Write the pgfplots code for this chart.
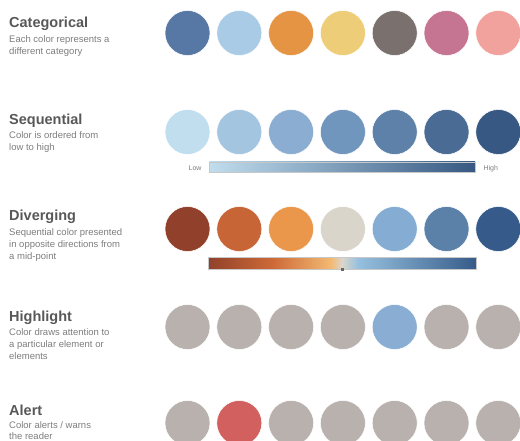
\documentclass[border=0pt]{standalone}
\usepackage{pgfplots}
\pgfplotsset{compat=1.18}
\usepackage{pgfplotstable}
\usepackage{fontspec}
\setmainfont{Liberation Sans}
\definecolor{ttl}{RGB}{88,88,88}
\definecolor{sub}{RGB}{125,125,125}
\definecolor{seqA}{RGB}{193,222,238}
\definecolor{seqB}{RGB}{54,88,130}
\definecolor{dv1}{RGB}{145,65,43}
\definecolor{dv2}{RGB}{205,105,55}
\definecolor{dv3}{RGB}{243,186,115}
\definecolor{dv4}{RGB}{218,214,205}
\definecolor{dv5}{RGB}{150,192,222}
\definecolor{dv6}{RGB}{54,91,138}
% circle colours
\definecolor{ca}{RGB}{87,120,164}
\definecolor{cb}{RGB}{169,203,229}
\definecolor{cc}{RGB}{229,148,68}
\definecolor{cd}{RGB}{237,205,120}
\definecolor{ce}{RGB}{122,112,109}
\definecolor{cf}{RGB}{197,117,145}
\definecolor{cg}{RGB}{241,162,156}
\definecolor{sa}{RGB}{193,222,238}
\definecolor{sb}{RGB}{163,197,224}
\definecolor{sc}{RGB}{138,173,209}
\definecolor{sd}{RGB}{113,150,189}
\definecolor{se}{RGB}{93,129,168}
\definecolor{sf}{RGB}{74,107,148}
\definecolor{sg}{RGB}{54,88,130}
\definecolor{da}{RGB}{145,65,43}
\definecolor{db}{RGB}{200,101,54}
\definecolor{dc}{RGB}{234,151,76}
\definecolor{dd}{RGB}{218,213,202}
\definecolor{de}{RGB}{133,173,211}
\definecolor{df}{RGB}{91,129,168}
\definecolor{dg}{RGB}{54,91,138}
\definecolor{hg}{RGB}{184,177,173}
\definecolor{hb}{RGB}{138,173,211}
\definecolor{ar}{RGB}{209,96,94}
\pgfdeclarehorizontalshading{seqshade}{100bp}{color(0bp)=(seqA); color(25bp)=(seqA); color(75bp)=(seqB); color(100bp)=(seqB)}
\pgfdeclarehorizontalshading{divshade}{100bp}{color(0bp)=(dv1); color(25bp)=(dv1); color(37bp)=(dv2); color(48bp)=(dv3); color(50bp)=(dv4); color(53bp)=(dv5); color(75bp)=(dv6); color(100bp)=(dv6)}

\pgfplotstableread{
x y c
187.5 33 ca
239.3 33 cb
291.1 33 cc
342.9 33 cd
394.7 33 ce
446.5 33 cf
498.3 33 cg
187.5 132 sa
239.3 132 sb
291.1 132 sc
342.9 132 sd
394.7 132 se
446.5 132 sf
498.3 132 sg
187.5 229 da
239.3 229 db
291.1 229 dc
342.9 229 dd
394.7 229 de
446.5 229 df
498.3 229 dg
187.5 327 hg
239.3 327 hg
291.1 327 hg
342.9 327 hg
394.7 327 hb
446.5 327 hg
498.3 327 hg
187.5 423 hg
239.3 423 ar
291.1 423 hg
342.9 423 hg
394.7 423 hg
446.5 423 hg
498.3 423 hg
}\circles

\begin{document}
\begin{tikzpicture}
\begin{axis}[
  width=520pt, height=441pt, scale only axis,
  xmin=0, xmax=520, ymin=0, ymax=441, y dir=reverse,
  hide axis, clip=false, enlargelimits=false,
]
\addplot[scatter, only marks, mark=*, mark size=22.5,
  point meta=explicit symbolic,
  scatter/classes={
    ca={fill=ca}, cb={fill=cb}, cc={fill=cc}, cd={fill=cd}, ce={fill=ce}, cf={fill=cf}, cg={fill=cg},
    sa={fill=sa}, sb={fill=sb}, sc={fill=sc}, sd={fill=sd}, se={fill=se}, sf={fill=sf}, sg={fill=sg},
    da={fill=da}, db={fill=db}, dc={fill=dc}, dd={fill=dd}, de={fill=de}, df={fill=df}, dg={fill=dg},
    hg={fill=hg}, hb={fill=hb}, ar={fill=ar}},
  mark options={draw=white, line width=0.5pt},
] table[meta=c] {\circles};

\addplot[draw=black!22, line width=0.8pt, shade, shading=seqshade] coordinates {(209,162) (475,162) (475,172.5) (209,172.5)} -- cycle;
\addplot[draw=black!22, line width=0.8pt, shade, shading=divshade] coordinates {(208,257.5) (476,257.5) (476,269) (208,269)} -- cycle;
\addplot[only marks, mark=square*, mark size=1.1, color=black!60] coordinates {(342,269.5)};

\node[font=\fontsize{8}{9}\selectfont, text=black!60] at (axis cs:343,229.5) {Mid};
\node[font=\fontsize{7}{8}\selectfont, text=sub, anchor=base east] at (axis cs:205,170.5) {Low};
\node[font=\fontsize{7}{8}\selectfont, text=sub, anchor=base west] at (axis cs:480,170.5) {High};

\tikzset{ttlsty/.style={font=\fontsize{14.5}{16}\selectfont\bfseries, text=ttl, anchor=base west, inner sep=0pt},
  substy/.style={font=\fontsize{9.5}{11}\selectfont, text=sub, anchor=base west, inner sep=0pt}}
\node[ttlsty] at (axis cs:9,28) {Categorical};
\node[substy] at (axis cs:9,42.5) {Each color represents a};
\node[substy] at (axis cs:9,55) {different category};

\node[ttlsty] at (axis cs:9,125) {Sequential};
\node[substy] at (axis cs:9,139) {Color is ordered from};
\node[substy] at (axis cs:9,151) {low to high};

\node[ttlsty] at (axis cs:9,221) {Diverging};
\node[substy] at (axis cs:9,235.5) {Sequential color presented};
\node[substy] at (axis cs:9,247.5) {in opposite directions from};
\node[substy] at (axis cs:9,259.5) {a mid-point};

\node[ttlsty] at (axis cs:9,321) {Highlight};
\node[substy] at (axis cs:9,335.5) {Color draws attention to};
\node[substy] at (axis cs:9,347.5) {a particular element or};
\node[substy] at (axis cs:9,359.5) {elements};

\node[ttlsty] at (axis cs:9,415) {Alert};
\node[substy] at (axis cs:9,428) {Color alerts / warns};
\node[substy] at (axis cs:9,439) {the reader};
\end{axis}
\pgfresetboundingbox
\useasboundingbox (current axis.south west) rectangle (current axis.north east);
\end{tikzpicture}
\end{document}
